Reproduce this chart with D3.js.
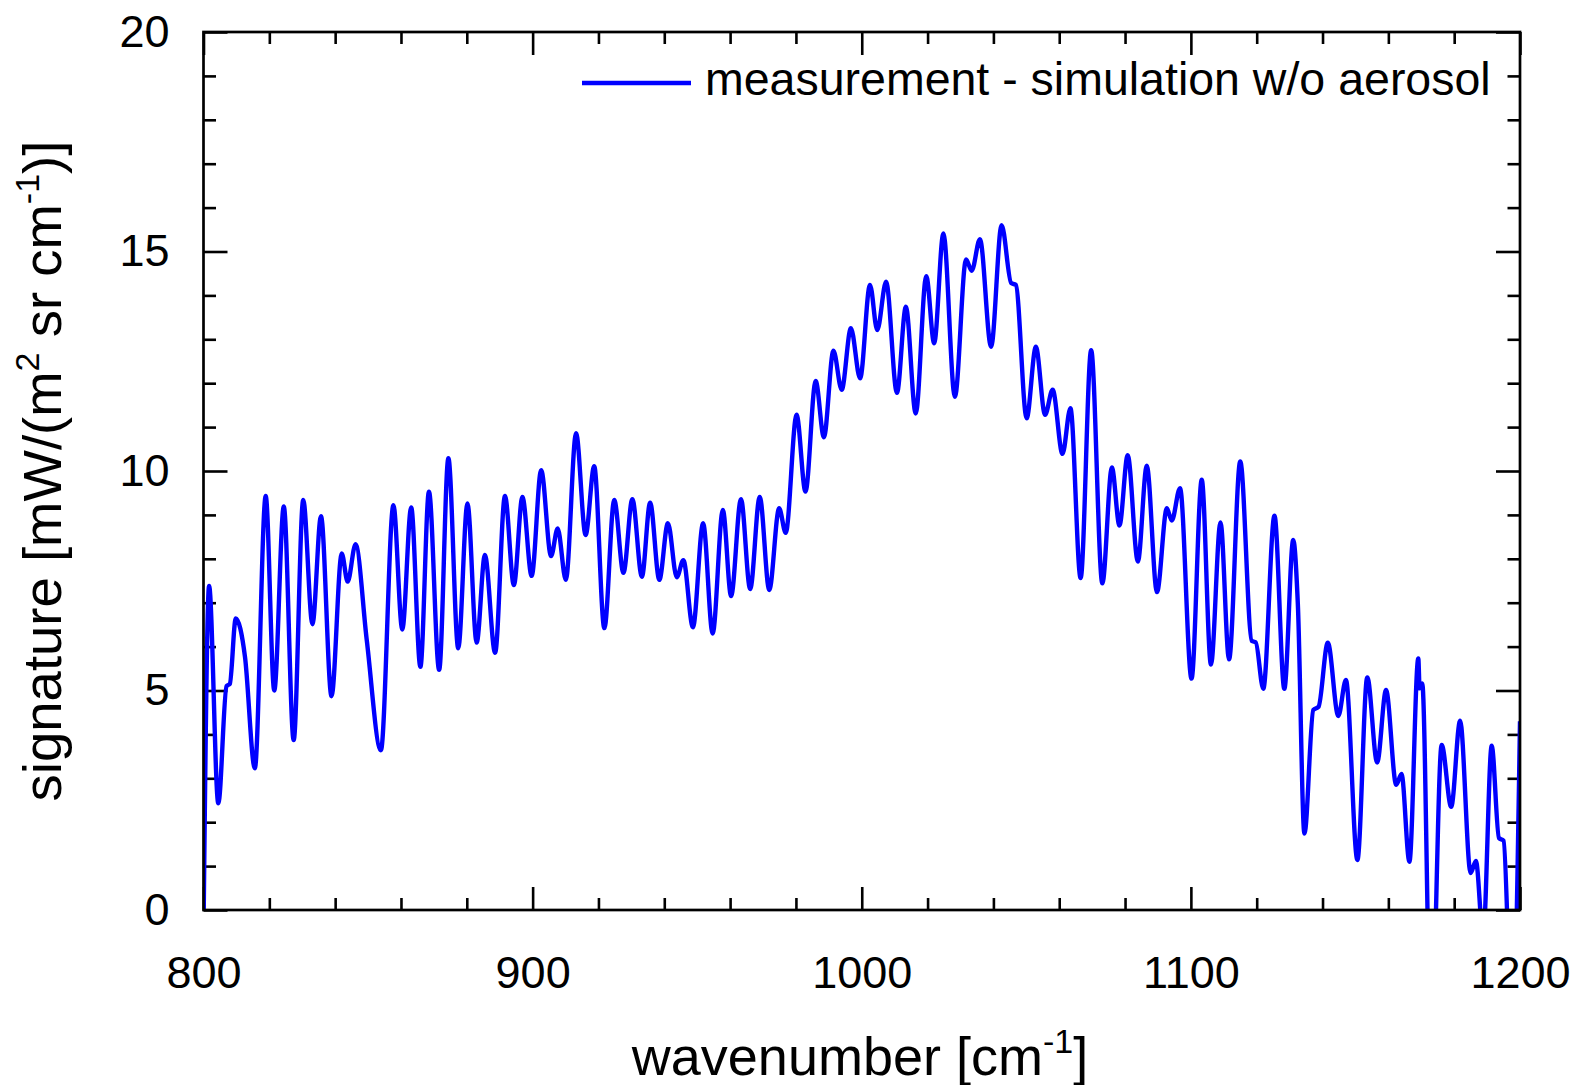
<!DOCTYPE html>
<html>
<head>
<meta charset="utf-8">
<script src="https://cdn.jsdelivr.net/npm/d3@7"></script>
<style>
  html, body { margin: 0; padding: 0; background: #fff; }
  svg text { font-family: "Liberation Sans", Arial, sans-serif; fill: #000; }
</style>
</head>
<body>
<svg id="chart" width="1577" height="1085"></svg>
<script>
// ---- data ----
const wavenumber = [
  800, 801.7, 804.5, 807.0, 808.0, 809.8, 812.6, 815.6, 818.9, 821.5,
  824.4, 827.4, 830.3, 833.1, 835.7, 838.9, 842.0, 843.8, 846.2, 849.6,
  853.9, 857.7, 860.4, 863.1, 865.9, 868.5, 871.6, 874.4, 877.4, 880.2,
  883.0, 885.5, 888.6, 891.6, 894.3, 896.9, 899.7, 902.6, 905.6, 907.6,
  910.1, 913.2, 916.1, 918.7, 921.8, 924.8, 927.6, 930.3, 933.2, 935.7,
  938.5, 941.1, 943.8, 945.8, 948.7, 951.8, 954.7, 957.8, 960.3, 963.3,
  966.1, 969.0, 971.9, 974.9, 976.9, 980.2, 982.9, 986.0, 988.5, 991.4,
  993.9, 996.7, 999.5, 1002.5, 1004.7, 1007.4, 1010.7, 1013.4, 1016.4, 1019.6,
  1022.0, 1024.8, 1028.3, 1031.7, 1033.4, 1035.9, 1039.3, 1042.5, 1045.4, 1046.8,
  1050.1, 1052.9, 1055.7, 1058.0, 1061.0, 1063.4, 1066.5, 1069.7, 1073.1, 1076.0,
  1078.3, 1080.8, 1083.9, 1086.6, 1089.7, 1092.7, 1094.2, 1096.7, 1100.2, 1103.3,
  1106.1, 1109.0, 1111.6, 1115.0, 1118.5, 1119.7, 1122.0, 1125.4, 1128.4, 1131.1,
  1132.5, 1134.5, 1137.2, 1138.8, 1141.6, 1144.8, 1147.1, 1150.6, 1153.6, 1156.6,
  1159.3, 1162.4, 1164.0, 1166.4, 1169.1, 1169.5, 1170.3, 1173.0, 1176.2, 1179.1,
  1181.8, 1185.0, 1186.6, 1188.8, 1191.4, 1193.6, 1195.0, 1197.7, 1200
];
const signature = [
  -0.5, 7.38, 2.43, 5.10, 5.15, 6.64, 5.77, 3.23, 9.43, 5.00,
  9.19, 3.87, 9.34, 6.51, 8.97, 4.87, 8.12, 7.48, 8.33, 6.15,
  3.64, 9.22, 6.39, 9.17, 5.54, 9.53, 5.47, 10.29, 5.96, 9.26,
  6.09, 8.09, 5.86, 9.43, 7.40, 9.41, 7.61, 10.02, 8.06, 8.69,
  7.52, 10.86, 8.54, 10.11, 6.42, 9.34, 7.68, 9.36, 7.59, 9.28,
  7.52, 8.81, 7.58, 7.97, 6.44, 8.81, 6.30, 9.11, 7.15, 9.36,
  7.31, 9.41, 7.29, 9.15, 8.59, 11.28, 9.53, 12.05, 10.77, 12.74,
  11.85, 13.25, 12.11, 14.24, 13.21, 14.31, 11.78, 13.74, 11.31, 14.44,
  12.91, 15.41, 11.69, 14.82, 14.56, 15.28, 12.83, 15.60, 14.28, 14.24,
  11.20, 12.83, 11.28, 11.85, 10.39, 11.43, 7.56, 12.75, 7.44, 10.08,
  8.76, 10.36, 7.94, 10.12, 7.24, 9.15, 8.87, 9.61, 5.27, 9.80,
  5.59, 8.83, 5.71, 10.22, 6.13, 6.10, 5.04, 8.98, 5.04, 8.43,
  6.97, 1.74, 4.56, 4.63, 6.09, 4.42, 5.24, 1.14, 5.30, 3.36,
  5.01, 2.85, 3.10, 1.10, 5.73, 5.05, 5.16, -3.0, 3.76, 2.35,
  4.31, 0.84, 1.12, -0.6, 3.74, 1.64, 1.58, -3.0, 4.3
];
const xMajorTicks = [800, 900, 1000, 1100, 1200];
const yMajorTicks = [0, 5, 10, 15, 20];
const seriesName = "measurement - simulation w/o aerosol";

// ---- layout ----
const L = 203.5, R = 1520, T = 32, B = 910;
const svg = d3.select("#chart");
const x = d3.scaleLinear().domain([800, 1200]).range([L, R]);
const y = d3.scaleLinear().domain([0, 20]).range([B, T]);

const xMinor = d3.range(800, 1201, 20).filter(v => v % 100 !== 0);
const yMinor = d3.range(0, 20.01, 1).filter(v => v % 5 !== 0);

const fontTick = 45;
function styleAxis(g) {
  g.select(".domain").remove();
  g.selectAll(".tick line").attr("stroke", "#000").attr("stroke-width", 2.6);
  g.selectAll(".tick text").attr("font-size", fontTick).attr("font-family", "Liberation Sans, Arial, sans-serif").attr("fill", "#000");
}

// bottom
svg.append("g").attr("transform", `translate(0,${B})`)
  .call(d3.axisBottom(x).tickValues(xMajorTicks).tickSize(-23).tickPadding(46).tickFormat(d3.format("d")))
  .call(styleAxis);
svg.append("g").attr("transform", `translate(0,${B})`)
  .call(d3.axisBottom(x).tickValues(xMinor).tickSize(-12).tickFormat(""))
  .call(styleAxis);
// top
svg.append("g").attr("transform", `translate(0,${T})`)
  .call(d3.axisTop(x).tickValues(xMajorTicks).tickSize(-23).tickFormat(""))
  .call(styleAxis);
svg.append("g").attr("transform", `translate(0,${T})`)
  .call(d3.axisTop(x).tickValues(xMinor).tickSize(-12).tickFormat(""))
  .call(styleAxis);
// left
svg.append("g").attr("transform", `translate(${L},0)`)
  .call(d3.axisLeft(y).tickValues(yMajorTicks).tickSize(-24).tickPadding(34).tickFormat(d3.format("d")))
  .call(styleAxis);
svg.append("g").attr("transform", `translate(${L},0)`)
  .call(d3.axisLeft(y).tickValues(yMinor).tickSize(-12.5).tickFormat(""))
  .call(styleAxis);
// right
svg.append("g").attr("transform", `translate(${R},0)`)
  .call(d3.axisRight(y).tickValues(yMajorTicks).tickSize(-24).tickFormat(""))
  .call(styleAxis);
svg.append("g").attr("transform", `translate(${R},0)`)
  .call(d3.axisRight(y).tickValues(yMinor).tickSize(-12.5).tickFormat(""))
  .call(styleAxis);

// clip
svg.append("clipPath").attr("id", "plotclip")
  .append("rect").attr("x", L).attr("y", T).attr("width", R - L).attr("height", B - T);

const data = wavenumber.map((w, i) => ({ w, s: signature[i] }));
const line = d3.line().x(d => x(d.w)).y(d => y(d.s)).curve(d3.curveMonotoneX);
svg.append("path").datum(data)
  .attr("clip-path", "url(#plotclip)")
  .attr("d", line)
  .attr("fill", "none")
  .attr("stroke", "#0000ff")
  .attr("stroke-width", 4.4)
  .attr("stroke-linejoin", "round");

// frame
svg.append("rect").attr("x", L).attr("y", T).attr("width", R - L).attr("height", B - T)
  .attr("fill", "none").attr("stroke", "#000").attr("stroke-width", 2.7);

// legend
svg.append("line").attr("x1", 582).attr("x2", 691).attr("y1", 83).attr("y2", 83)
  .attr("stroke", "#0000ff").attr("stroke-width", 4.4);
svg.append("text").attr("x", 705).attr("y", 95).attr("font-size", 46.5).text(seriesName);

// x-axis title
const xt = svg.append("text").attr("x", 860).attr("y", 1075).attr("text-anchor", "middle").attr("font-size", 54);
xt.append("tspan").text("wavenumber [cm");
xt.append("tspan").attr("dy", -22).attr("font-size", 34).text("-1");
xt.append("tspan").attr("dy", 22).text("]");

// y-axis title
const yt = svg.append("text")
  .attr("transform", `translate(61,${(T + B) / 2}) rotate(-90)`)
  .attr("text-anchor", "middle").attr("font-size", 54.5);
yt.append("tspan").text("signature [mW/(m");
yt.append("tspan").attr("dy", -22).attr("font-size", 34).text("2");
yt.append("tspan").attr("dy", 22).text(" sr cm");
yt.append("tspan").attr("dy", -22).attr("font-size", 34).text("-1");
yt.append("tspan").attr("dy", 22).text(")]");
</script>
</body>
</html>
